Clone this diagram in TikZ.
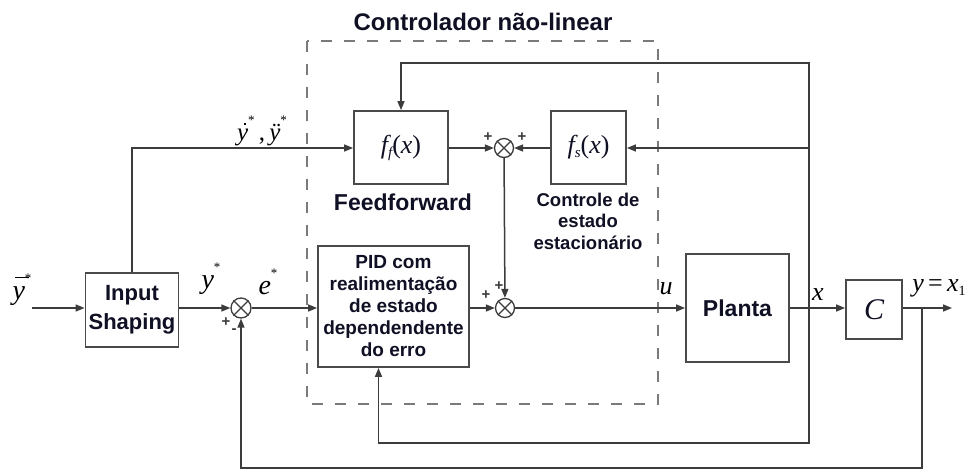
\documentclass[tikz,border=0pt]{standalone}
\usepackage{fontspec}
\setsansfont{Liberation Sans}
\newfontfamily\tms{Liberation Serif}
\usetikzlibrary{arrows.meta,calc}

\definecolor{wirecol}{HTML}{3C3C3C}
\definecolor{boxcol}{HTML}{4A4A4A}
\definecolor{dashcol}{HTML}{7A7A7A}
\definecolor{txtcol}{HTML}{101025}

\newcommand{\iv}[1]{{\tms\itshape #1}}
\newcommand{\sz}[2]{\fontsize{#1}{#2}\selectfont}
% small raised asterisk used on the reference signals
\newcommand{\refstar}{\raisebox{0.62em}{\sz{13}{13}\tms *}}
% y with a bar over it
\newcommand{\ybar}{\makebox[0pt][l]{\hspace{0.08em}\raisebox{0.78em}{\rule{0.5em}{0.045em}}}\iv{y}}
% y with a dot over it (first derivative)
\newcommand{\ydot}{\makebox[0pt][l]{\hspace{0.27em}\raisebox{0.6em}{\rule{0.09em}{0.09em}}}\iv{y}}

\begin{document}
\begin{tikzpicture}[x=1pt,y=-1pt,
  wire/.style={draw=wirecol, line width=1.5pt},
  sig/.style={wire, -{Triangle[length=9pt,width=7pt]}},
  blk/.style={draw=boxcol, line width=1.8pt, fill=white, inner sep=0pt, align=center, text=txtcol},
  sumj/.style={circle, draw=wirecol, line width=1.3pt, minimum size=19pt, inner sep=0pt, fill=white},
  lbl/.style={font=\sffamily\bfseries, text=txtcol, align=center, inner sep=0pt},
  mlbl/.style={text=black, inner sep=0pt},
  sgn/.style={font=\sffamily\bfseries\sz{15}{15}, text=wirecol, inner sep=0pt},
  cbox/.style={draw=dashcol, line width=2pt, dash pattern=on 11pt off 12pt}]

\useasboundingbox (0,0) rectangle (966,472);

% non-linear controller boundary and its title
\draw[cbox] (307,41) rectangle (658,404);
\node[lbl, font=\sffamily\bfseries\sz{24}{28}] (title) at (483,22) {Controlador não-linear};

% blocks
\node[blk, minimum width=93pt, minimum height=74pt, font=\sffamily\bfseries\sz{22}{29}] (is) at (132,310) {Input\\Shaping};
\node[blk, minimum width=151pt, minimum height=121pt, font=\sffamily\bfseries\sz{19}{22}] (pid) at (393.5,306.5)
  {PID com\\realimentação\\de estado\\dependendente\\do erro};
\node[blk, minimum width=94pt, minimum height=73pt, font=\sz{26}{26}] (ff) at (401,147.5)
  {\iv{f}\raisebox{-0.35ex}{\sz{15}{15}\iv{f}}{\tms(}\iv{x}{\tms)}};
\node[blk, minimum width=75pt, minimum height=73pt, font=\sz{26}{26}] (fs) at (588.5,147.5)
  {\iv{f}\raisebox{-0.35ex}{\sz{15}{15}\iv{s}}{\tms(}\iv{x}{\tms)}};
\node[blk, minimum width=103pt, minimum height=108pt, font=\sffamily\bfseries\sz{23}{26}] (pl) at (737.5,308) {Planta};
\node[blk, minimum width=56pt, minimum height=59pt, font=\sz{30}{30}] (C) at (874,309.5) {\iv{C}};

% summing junctions
\node[sumj, minimum size=20pt] (s1) at (241,308) {};
\node[sumj] (s2) at (504,148) {};
\node[sumj] (s3) at (505,308) {};
\foreach \s in {s1,s2,s3}
  \draw[wirecol, line width=1.1pt] (\s.north east) -- (\s.south west) (\s.north west) -- (\s.south east);

% branch points and free ends
\coordinate (in) at (32,308);
\coordinate (jx) at (809,308);
\coordinate (jy) at (922,308);
\coordinate (out) at (952,308);
\coordinate (top) at (809,63);
\coordinate (lowin) at (809,443);
\coordinate (lowout) at (922,468);

% forward path
\draw[sig] (in) -- (in -| is.west);
\draw[sig] (is.east |- s1) -- (s1);
\draw[sig] (s1) -- (s1 -| pid.west);
\draw[sig] (pid.east |- s3) -- (s3);
\draw[sig] (s3) -- (s3 -| pl.west);
\draw[sig] (pl.east |- jx) -- (jx -| C.west);
\draw[sig] (C.east |- jy) -- (out);

% feedforward branch
\draw[sig] (is.north) |- (ff.west |- s2);
\draw[sig] (ff.east |- s2) -- (s2);
\draw[sig] (fs.west |- s2) -- (s2);
\draw[sig] (s2) -- (s3);

% state feedback loops
\draw[sig] (jx) -- (top) -| (ff.north);
\draw[sig] (jx |- s2) -- (fs.east |- s2);
\draw[sig] (jx) -- (lowin) -| ([xshift=-15pt]pid.south);
\draw[sig] (jy) -- (lowout) -| (s1.south);

% block captions
\node[lbl, font=\sffamily\bfseries\sz{23}{26}] (ffcap) at (403,202) {Feedforward};
\node[lbl, font=\sffamily\bfseries\sz{18.5}{21.5}] (fscap) at (588,221) {Controle de\\estado\\estacionário};

% signal labels
\node[mlbl, font=\sz{28}{28}] (lyr) at (22,290) {\ybar\refstar};
\node[mlbl, font=\sz{28}{28}] (lys) at (211,279) {\iv{y}\refstar};
\node[mlbl, font=\sz{28}{28}] (les) at (268,282) {\iv{e}\refstar};
\node[mlbl, font=\sz{25}{25}] (ldy) at (262,131)
  {\ydot\refstar{\tms\,,\,}\iv{ÿ}\refstar};
\node[mlbl, font=\sz{26}{26}] (lu) at (666,289) {\iv{u}};
\node[mlbl, font=\sz{26}{26}] (lx) at (818,295) {\iv{x}};
\node[mlbl, font=\sz{26}{26}] (ly) at (939,288) {\iv{y}{\tms\,=\,}\iv{x}\raisebox{-0.35ex}{\sz{14}{14}\tms 1}};

% signs at the junctions
\node[sgn] (p1a) at (226,322) {+};
\node[sgn] (m1a) at (234,331) {-};
\node[sgn] (p2a) at (488,137) {+};
\node[sgn] (p2b) at (522,137) {+};
\node[sgn] (p3a) at (486,295) {+};
\node[sgn] (p3b) at (499,286) {+};
\end{tikzpicture}
\end{document}
